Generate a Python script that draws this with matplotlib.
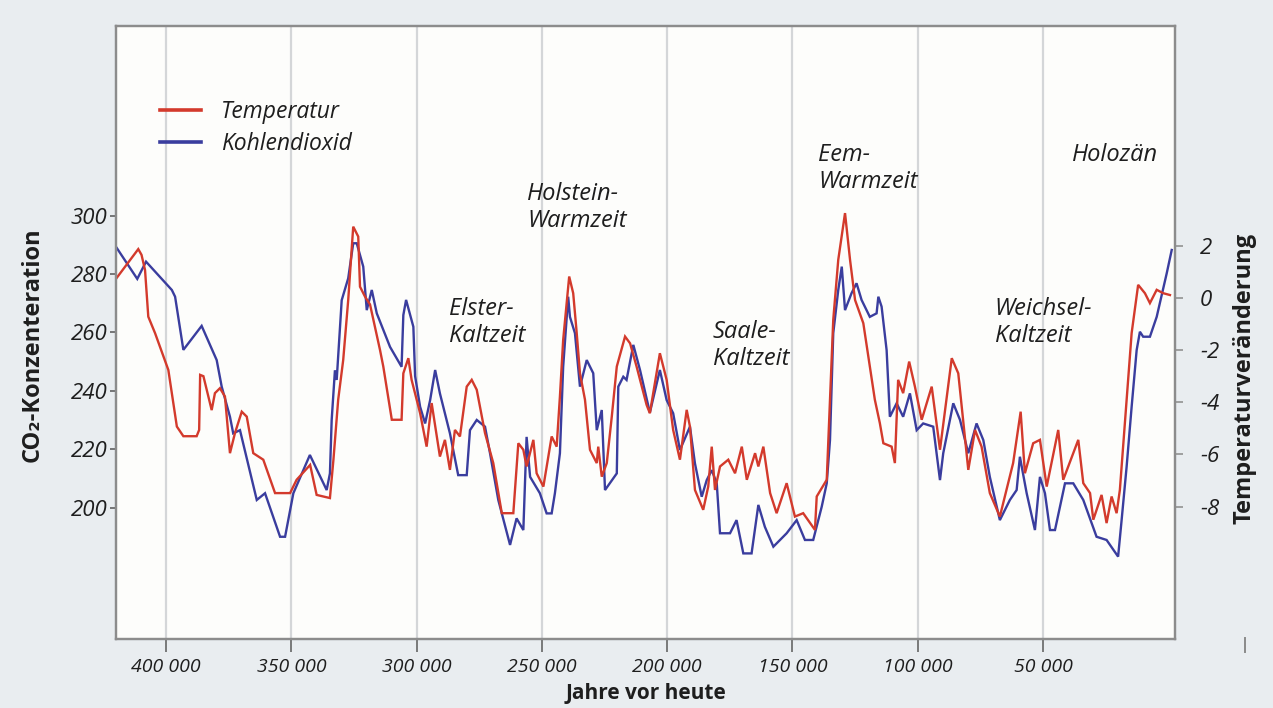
import matplotlib
matplotlib.use("Agg")
import matplotlib.pyplot as plt
from matplotlib.lines import Line2D

# Vostok ice core record: age in thousands of years before present
co2_ka = [420.0, 411.5, 408.0, 397.7, 396.4, 393.1, 385.8, 379.8, 377.8, 374.5,
          373.2, 370.5, 363.8, 360.5, 354.5, 352.5, 349.2, 342.6, 335.9, 334.6,
          333.9, 332.6, 331.9, 329.9, 327.3, 325.3, 323.9, 321.3, 319.9, 317.9,
          315.9, 310.6, 306.0, 305.3, 304.2, 301.3, 300.6, 298.6, 296.6, 294.6,
          292.6, 290.7, 286.7, 283.4, 280.0, 278.7, 276.0, 272.7, 270.7, 267.4,
          262.7, 260.1, 257.4, 256.1, 254.7, 250.8, 248.1, 246.1, 244.8, 242.8,
          241.5, 239.5, 238.8, 236.8, 234.8, 232.1, 229.5, 228.1, 226.1, 224.8,
          220.1, 219.5, 217.5, 216.2, 213.5, 210.8, 206.9, 202.9, 200.2, 197.6,
          194.9, 190.9, 188.9, 186.2, 184.2, 182.2, 180.2, 178.9, 174.9, 172.3,
          169.6, 166.3, 163.6, 161.0, 157.6, 152.3, 148.3, 145.0, 141.7, 138.3,
          136.3, 135.0, 133.7, 131.7, 130.3, 129.0, 126.4, 124.4, 122.4, 119.1,
          116.4, 115.7, 114.4, 112.4, 111.1, 108.4, 105.8, 103.1, 100.4, 97.8,
          93.8, 91.1, 89.8, 85.8, 83.1, 79.8, 76.5, 73.8, 71.2, 67.2,
          63.2, 60.5, 59.2, 56.5, 53.2, 51.2, 49.2, 47.2, 45.2, 41.2,
          37.9, 33.9, 28.6, 24.6, 20.0, 18.6, 16.6, 14.6, 12.6, 11.3,
          10.0, 7.3, 4.6, 0.6, -1.4]
co2_ppm = [289.3, 278.3, 284.2, 274.5, 272.2, 254.0, 262.2, 250.5, 241.4, 231.1,
           225.4, 226.5, 202.6, 204.9, 190.0, 190.0, 204.9, 218.0, 206.0, 211.7,
           230.0, 247.0, 243.7, 271.0, 278.5, 290.5, 290.5, 282.5, 267.6, 274.5,
           266.5, 255.0, 248.2, 265.9, 271.1, 261.9, 245.0, 234.5, 228.8, 236.8,
           247.1, 239.1, 225.4, 211.1, 211.1, 226.5, 230.0, 227.7, 218.6, 202.6,
           187.2, 196.3, 192.3, 224.2, 210.5, 204.9, 198.0, 198.0, 204.9, 218.6,
           248.2, 272.2, 265.3, 259.7, 241.4, 250.5, 246.0, 226.5, 233.4, 206.0,
           211.7, 241.4, 244.8, 243.7, 255.7, 247.0, 232.5, 247.1, 236.8, 232.3,
           219.7, 227.7, 215.1, 203.7, 209.4, 212.8, 208.3, 191.2, 191.2, 195.7,
           184.3, 184.3, 200.9, 193.4, 186.6, 191.2, 195.7, 188.9, 188.9, 200.3,
           208.3, 223.1, 259.7, 274.5, 282.5, 267.6, 273.4, 276.8, 271.1, 265.3,
           266.5, 272.2, 268.8, 253.9, 231.1, 235.7, 231.1, 239.1, 226.5, 228.8,
           227.7, 209.4, 218.6, 235.7, 230.0, 218.6, 228.8, 223.1, 210.5, 195.7,
           202.6, 206.0, 217.4, 204.9, 192.3, 210.5, 204.9, 192.3, 192.3, 208.3,
           208.3, 202.6, 190.0, 188.9, 183.2, 195.7, 214.0, 234.5, 253.9, 260.2,
           258.5, 258.5, 265.3, 280.2, 288.2]

temp_ka = [420.0, 411.1, 409.8, 408.4, 407.1, 404.4, 399.1, 397.7, 395.7, 393.1,
           387.8, 386.8, 386.4, 385.1, 381.8, 380.5, 378.5, 376.5, 374.5, 372.5,
           369.8, 367.8, 365.2, 361.2, 356.5, 350.5, 347.9, 342.5, 339.9, 334.6,
           333.2, 331.3, 329.3, 327.3, 325.3, 323.3, 322.6, 320.6, 318.6, 314.6,
           313.3, 309.9, 306.0, 305.3, 303.3, 302.0, 298.6, 296.0, 294.0, 290.7,
           288.7, 286.7, 284.7, 282.7, 280.0, 278.0, 276.0, 272.7, 269.4, 266.0,
           261.4, 259.4, 257.4, 256.1, 253.4, 252.1, 249.4, 246.1, 244.1, 242.8,
           241.5, 239.1, 237.5, 236.2, 234.8, 232.8, 230.8, 228.1, 227.5, 226.1,
           224.1, 222.1, 220.1, 216.8, 214.8, 212.2, 208.2, 206.9, 202.9, 200.2,
           197.6, 194.9, 192.2, 190.9, 188.9, 185.6, 183.6, 182.2, 180.9, 178.9,
           175.6, 172.9, 170.2, 168.2, 164.9, 163.6, 161.6, 158.9, 156.3, 152.3,
           149.0, 145.7, 141.0, 140.3, 136.3, 135.0, 133.7, 131.7, 129.0, 127.0,
           125.0, 121.7, 119.1, 117.1, 115.1, 113.7, 110.4, 109.1, 107.8, 105.8,
           103.4, 101.1, 98.4, 94.4, 91.1, 86.4, 83.8, 79.8, 77.1, 74.5,
           71.2, 67.2, 61.9, 58.9, 57.2, 53.9, 51.2, 48.5, 43.9, 41.9,
           35.9, 33.9, 31.2, 29.9, 26.6, 24.6, 22.6, 20.6, 19.3, 16.6,
           14.6, 12.0, 9.3, 7.3, 4.6, 2.0, -0.7]
temp_dev = [0.73, 1.87, 1.65, 1.07, -0.72, -1.35, -2.76, -3.65, -4.93, -5.30,
            -5.30, -5.06, -2.95, -3.00, -4.30, -3.65, -3.46, -3.78, -5.95, -5.18,
            -4.36, -4.55, -5.95, -6.20, -7.48, -7.48, -6.97, -6.40, -7.55, -7.67,
            -6.20, -3.90, -2.38, -0.08, 2.73, 2.35, 0.43, 0.05, -0.25, -2.00,
            -2.63, -4.67, -4.67, -2.89, -2.31, -3.14, -4.42, -5.70, -4.03, -6.08,
            -5.44, -6.59, -5.06, -5.31, -3.40, -3.14, -3.52, -5.18, -6.33, -8.25,
            -8.25, -5.57, -5.82, -6.46, -5.44, -6.72, -7.23, -5.31, -5.70, -3.78,
            -1.61, 0.82, 0.18, -1.23, -2.89, -3.90, -5.82, -6.33, -5.70, -6.85,
            -6.33, -4.55, -2.63, -1.48, -1.74, -2.63, -4.10, -4.42, -2.12, -3.14,
            -5.06, -6.20, -4.29, -4.93, -7.36, -8.12, -7.23, -5.70, -7.36, -6.46,
            -6.20, -6.72, -5.70, -6.97, -5.95, -6.46, -5.70, -7.48, -8.25, -7.10,
            -8.38, -8.25, -8.89, -7.61, -6.97, -3.90, -0.84, 1.46, 3.25, 1.46,
            -0.08, -0.97, -2.63, -3.90, -4.80, -5.57, -5.70, -6.33, -3.14, -3.65,
            -2.44, -3.40, -4.67, -3.40, -5.82, -2.31, -2.89, -6.59, -5.06, -5.70,
            -7.48, -8.38, -6.33, -4.36, -6.72, -5.57, -5.44, -7.23, -5.06, -6.97,
            -5.44, -7.10, -7.48, -8.50, -7.55, -8.63, -7.61, -8.25, -7.36, -3.90,
            -1.35, 0.50, 0.18, -0.20, 0.31, 0.18, 0.11]

year_ticks = [400, 350, 300, 250, 200, 150, 100, 50]
year_labels = ["400 000", "350 000", "300 000", "250 000",
               "200 000", "150 000", "100 000", "50 000"]
co2_ticks = [200, 220, 240, 260, 280, 300]
temp_ticks = [-8, -6, -4, -2, 0, 2]

periods = [
    ("Holstein-\nWarmzeit", 255.9, 311.4),
    ("Elster-\nKaltzeit", 287.1, 272.0),
    ("Saale-\nKaltzeit", 181.7, 264.2),
    ("Eem-\nWarmzeit", 139.8, 324.8),
    ("Weichsel-\nKaltzeit", 69.2, 272.0),
    ("Holozän", 38.4, 325.0),
]

RED = "#d33a2c"
BLUE = "#3a3d9e"
GRID = "#d4d6d8"
SPINE = "#8c8c8c"
TXT = "#1e1e1e"

plt.rcParams["font.family"] = ["Open Sans", "DejaVu Sans"]

fig = plt.figure(figsize=(12.73, 7.08), dpi=100, facecolor="#e9edf0")
ax = fig.add_axes([0.0911, 0.0975, 0.8319, 0.8658])
ax.set_facecolor("#fdfdfb")
ax2 = ax.twinx()

ax.plot(co2_ka, co2_ppm, color=BLUE, lw=1.7, solid_joinstyle="miter")
ax2.plot(temp_ka, temp_dev, color=RED, lw=1.7, solid_joinstyle="miter")

ax.set_xlim(420, -2.7)
ax.set_ylim(155.0, 364.9)
ax2.set_ylim(-13.07, 10.42)

ax.set_xticks(year_ticks)
ax.set_xticklabels(year_labels, style="italic", fontsize=14, color=TXT)
ax.set_yticks(co2_ticks)
ax.set_yticklabels([str(v) for v in co2_ticks], style="italic", fontsize=16, color=TXT)
ax2.set_yticks(temp_ticks)
ax2.set_yticklabels([str(v) for v in temp_ticks], style="italic", fontsize=16, color=TXT)

ax.grid(axis="x", color=GRID, lw=1.6)
ax.tick_params(axis="x", direction="out", length=9, width=1.3, color="#707070", pad=5)
ax.tick_params(axis="y", direction="out", length=4, width=1.1, color="#555555", pad=2)
ax2.tick_params(axis="y", direction="out", length=6, width=1.1, color="#8a8a8a", pad=12)

for a in (ax, ax2):
    for s in a.spines.values():
        s.set_color(SPINE)
        s.set_linewidth(1.6)

ax.set_xlabel("Jahre vor heute", fontsize=15, fontweight="bold", color=TXT, labelpad=5)
ax.set_ylabel("CO₂-Konzenteration", fontsize=17, fontweight="bold", color=TXT)
ax2.set_ylabel("Temperaturveränderung", fontsize=17, fontweight="bold", color=TXT)
ax.yaxis.set_label_coords(-0.0784, 0.4796)
ax2.yaxis.set_label_coords(1.0661, 0.4258)
ax.yaxis.label.set_va("center")
ax2.yaxis.label.set_va("center")

for label, ka, ppm in periods:
    ax.text(ka, ppm, label, style="italic", fontsize=17, color=TXT,
            ha="left", va="top", linespacing=1.15)

handles = [Line2D([], [], color=RED, lw=2.6), Line2D([], [], color=BLUE, lw=2.6)]
leg = ax2.legend(handles, ["Temperatur", "Kohlendioxid"], loc="upper left",
                 bbox_to_anchor=(160 / 1273, 1 - 100 / 708), bbox_transform=fig.transFigure,
                 frameon=False, borderpad=0, borderaxespad=0, handlelength=1.8,
                 handletextpad=0.85, labelspacing=0.33,
                 prop={"style": "italic", "size": 16.5})
for t in leg.get_texts():
    t.set_color(TXT)

# small stray tick mark below the right axis label
fig.add_artist(Line2D([1245 / 1273, 1245 / 1273], [1 - 638 / 708, 1 - 652 / 708],
                      color="#8a8a8a", lw=1.4))

fig.savefig("out.png", dpi=100, facecolor=fig.get_facecolor())
